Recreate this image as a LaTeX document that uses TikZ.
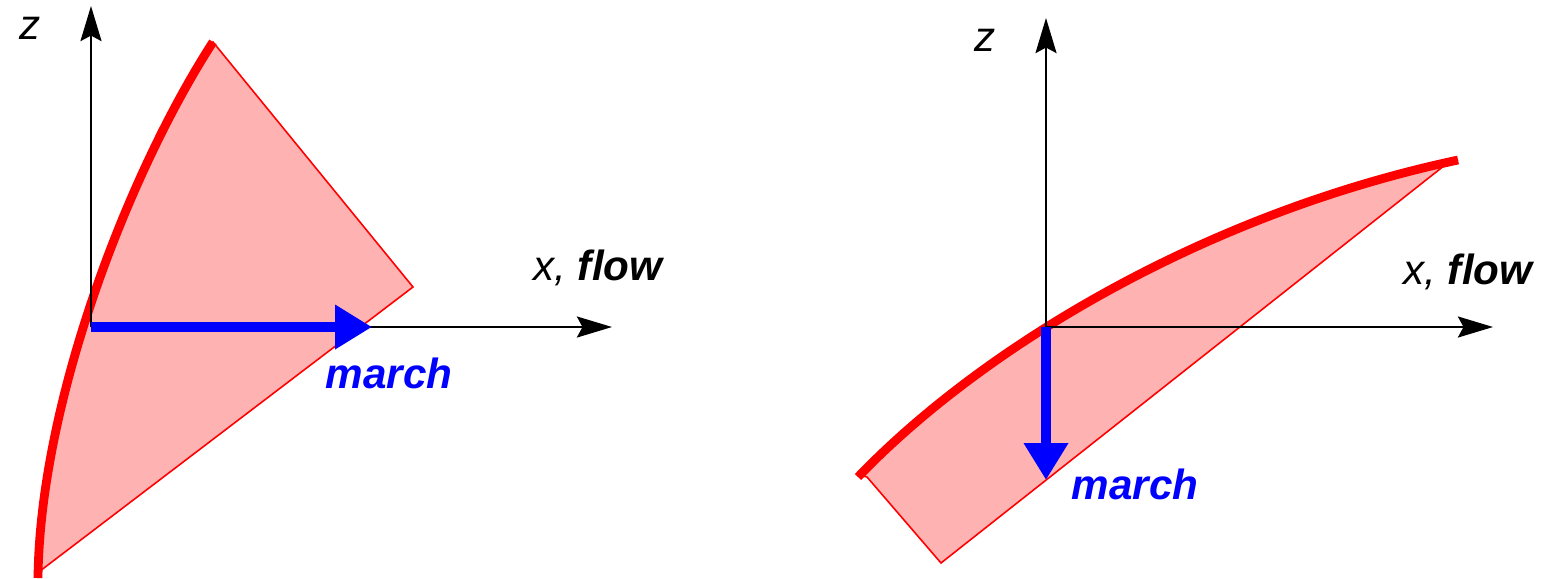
\documentclass[tikz,border=0pt]{standalone}
\usepackage{fontspec}
\setmainfont{Liberation Sans}
\usetikzlibrary{arrows.meta}
\begin{document}
\begin{tikzpicture}[x=.01cm,y=-.01cm,font=\fontsize{12}{14}\selectfont,
    axisline/.style={line width=.45pt,-{Stealth[length=10pt,width=6pt,inset=1.6pt]}},
    marcharrow/.style={blue,line width=2.8pt,-{Triangle[length=10.5pt,width=12pt]}},
    wedgefill/.style={fill=red!30,draw=red,line width=.45pt},
    rimline/.style={red,line width=2.5pt},
    marchlabel/.style={blue,font=\fontsize{12}{14}\selectfont\bfseries\itshape}]
  \useasboundingbox (0,0) rectangle (1546,578);
  % left panel: wedge and curved front
  \draw[wedgefill] (38,573) .. controls (40,400) and (130,170) .. (213,42)
    -- (413,287) -- (40,571) -- cycle;
  \draw[rimline] (38,578) .. controls (40,400) and (130,170) .. (213,42);
  \coordinate (oL) at (91,327);
  \coordinate (zL) at (91,6);
  \coordinate (xL) at (612,327);
  \coordinate (mL) at (372,327);
  \draw[axisline] (oL) -- (zL);
  \draw[axisline] (oL) -- (xL);
  \draw[marcharrow] (oL) -- (mL);
  \node (zlabL) at (30,28) {\textit{z}};
  \node (xlabL) at (599,268) {\textit{x,} \textbf{\textit{flow}}};
  \node[marchlabel] (mlabL) at (389,373) {march};
  % right panel: wedge and curved front
  \draw[wedgefill] (860,475) .. controls (980,350) and (1200,215) .. (1458,160)
    -- (1445,165) -- (941,563) -- (867,477) -- cycle;
  \draw[rimline] (858,477) .. controls (980,350) and (1200,215) .. (1458,160);
  \coordinate (oR) at (1046,327);
  \coordinate (zR) at (1046,18);
  \coordinate (xR) at (1493,327);
  \coordinate (mR) at (1046,480);
  \draw[axisline] (oR) -- (zR);
  \draw[axisline] (oR) -- (xR);
  \draw[marcharrow] (oR) -- (mR);
  \node (zlabR) at (985,40) {\textit{z}};
  \node (xlabR) at (1469,272) {\textit{x,} \textbf{\textit{flow}}};
  \node[marchlabel] (mlabR) at (1135,484) {march};
\end{tikzpicture}
\end{document}
